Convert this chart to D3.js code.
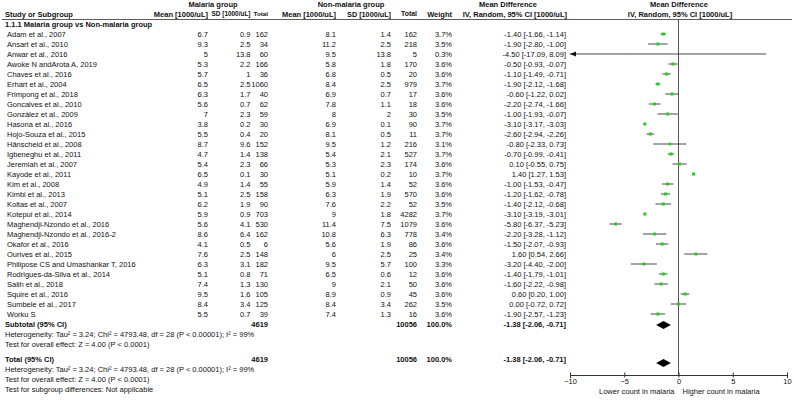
<!DOCTYPE html>
<html>
<head>
<meta charset="utf-8">
<script src="https://cdn.jsdelivr.net/npm/d3@7"></script>
<style>
  body { margin: 0; background: #fff; }
  text { font-family: "Liberation Sans", Arial, sans-serif; font-size: 7.5px; fill: #111; }
  .b { font-weight: bold; }
</style>
</head>
<body>
<div id="chart"></div>
<script>
// study rows
let studies = ["Adam et al., 2007", "Ansart et al., 2010", "Anwar et al., 2016", "Awoke N andArota A, 2019",
  "Chaves et al., 2016", "Erhart et al., 2004", "Frimpong et al., 2018", "Goncalves et al., 2010",
  "González et al., 2009", "Hasona  et al., 2016", "Hojo-Souza et al., 2015", "Hänscheid et al., 2008",
  "Igbeneghu et al., 2011", "Jeremiah et al., 2007", "Kayode et al., 2011", "Kim et al., 2008",
  "Kimbi et al., 2013", "Koltas et al., 2007", "Kotepui et al., 2014", "Maghendji-Nzondo et al., 2016",
  "Maghendji-Nzondo et al., 2016-2", "Okafor et al., 2016", "Ourives et al., 2015",
  "Philipose CS and Umashankar T, 2016", "Rodrigues-da-Silva et al., 2014", "Salih et al., 2018",
  "Squire et al., 2016", "Sumbele et al., 2017", "Worku S"];

let malMean = [6.7, 9.3, 5, 5.3, 5.7, 6.5, 6.3, 5.6, 7, 3.8, 5.5, 8.7, 4.7, 5.4, 6.5, 4.9, 5.1, 6.2, 5.9, 5.6, 8.6, 4.1, 7.6, 6.3, 5.1, 7.4, 9.5, 8.4, 5.5];
let malSD = [0.9, 2.5, 13.8, 2.2, 1, 2.5, 1.7, 0.7, 2.3, 0.2, 0.4, 9.6, 1.4, 2.3, 0.1, 1.4, 2.5, 1.9, 0.9, 4.1, 6.4, 0.5, 2.5, 3.1, 0.8, 1.3, 1.6, 3.4, 0.7];
let malN = [162, 34, 60, 166, 36, 1060, 40, 62, 59, 30, 20, 152, 138, 66, 30, 55, 158, 90, 703, 530, 162, 6, 148, 182, 71, 130, 105, 125, 39];
let nonMean = [8.1, 11.2, 9.5, 5.8, 6.8, 8.4, 6.9, 7.8, 8, 6.9, 8.1, 9.5, 5.4, 5.3, 5.1, 5.9, 6.3, 7.6, 9, 11.4, 10.8, 5.6, 6, 9.5, 6.5, 9, 8.9, 8.4, 7.4];
let nonSD = [1.4, 2.5, 13.8, 1.8, 0.5, 2.5, 0.7, 1.1, 2, 0.1, 0.5, 1.2, 2.1, 2.3, 0.2, 1.4, 1.9, 2.2, 1.8, 7.5, 6.3, 1.9, 2.5, 5.7, 0.6, 2.1, 0.9, 3.4, 1.3];
let nonN = [162, 218, 5, 170, 20, 979, 17, 18, 30, 90, 11, 216, 527, 174, 10, 52, 570, 52, 4282, 1079, 778, 86, 25, 100, 12, 50, 45, 262, 16];
let weights = [3.7, 3.5, 0.3, 3.6, 3.6, 3.7, 3.6, 3.6, 3.5, 3.7, 3.7, 3.1, 3.7, 3.6, 3.7, 3.6, 3.6, 3.5, 3.7, 3.6, 3.4, 3.6, 3.4, 3.3, 3.6, 3.6, 3.6, 3.5, 3.6];
let md = [-1.40, -1.90, -4.50, -0.50, -1.10, -1.90, -0.60, -2.20, -1.00, -3.10, -2.60, -0.80, -0.70, 0.10, 1.40, -1.00, -1.20, -1.40, -3.10, -5.80, -2.20, -1.50, 1.60, -3.20, -1.40, -1.60, 0.60, 0.00, -1.90];
let ciLo = [-1.66, -2.80, -17.09, -0.93, -1.49, -2.12, -1.22, -2.74, -1.93, -3.17, -2.94, -2.33, -0.99, -0.55, 1.27, -1.53, -1.62, -2.12, -3.19, -6.37, -3.28, -2.07, 0.54, -4.40, -1.79, -2.22, 0.20, -0.72, -2.57];
let ciHi = [-1.14, -1.00, 8.09, -0.07, -0.71, -1.68, 0.02, -1.66, -0.07, -3.03, -2.26, 0.73, -0.41, 0.75, 1.53, -0.47, -0.78, -0.68, -3.01, -5.23, -1.12, -0.93, 2.66, -2.00, -1.01, -0.98, 1.00, 0.72, -1.23];

// pooled result
let pooled = { nMal: 4619, nNon: 10056, md: -1.38, lo: -2.06, hi: -0.71 };
let hetText = "Heterogeneity: Tau² = 3.24; Chi² = 4793.48, df = 28 (P < 0.00001); I² = 99%";
let effectText = "Test for overall effect: Z = 4.00 (P < 0.0001)";
let subgroupText = "Test for subgroup differences: Not applicable";
let axisTicks = [-10, -5, 0, 5, 10];

let width = 794, height = 402;
let svg = d3.select("#chart").append("svg")
  .attr("width", width)
  .attr("height", height);

// column right edges
let col = { name: 5, m1: 208, s1: 250.5, n1: 268, m2: 336, s2: 391, n2: 417, w: 452, ci: 566 };

let x = d3.scaleLinear().domain([-10, 10]).range([570, 787]);
let y = d3.scaleLinear().domain([0, studies.length - 1]).range([34, 314]);

function txt(xp, yp, s, anchor, bold) {
  return svg.append("text")
    .attr("x", xp).attr("y", yp).attr("dy", "0.35em")
    .attr("text-anchor", anchor || "start")
    .attr("class", bold ? "b" : null)
    .text(s);
}
// header that has to fit a narrow column: shrink the font if it is too long
function headTxt(xp, yp, s, maxW) {
  let t = txt(xp, yp, s, "end", true);
  let w = t.node().getComputedTextLength();
  if (w > maxW) t.style("font-size", (7.5 * maxW / w).toFixed(2) + "px");
  return t;
}
function ciStr(m, l, h) {
  return m.toFixed(2) + " [" + l.toFixed(2) + ", " + h.toFixed(2) + "]";
}

// headers
txt(213, 4, "Malaria group", "middle", true);
txt(351, 4, "Non-malaria group", "middle", true);
txt(508, 4, "Mean Difference", "middle", true);
txt(679, 4, "Mean Difference", "middle", true);
txt(col.name, 14, "Study or Subgroup", "start", true);
headTxt(col.m1, 14, "Mean [1000/uL]", 55);
headTxt(col.s1, 14, "SD [1000/uL]", 39);
headTxt(col.n1, 14, "Total", 14.5);
headTxt(col.m2, 14, "Mean [1000/uL]", 54);
headTxt(col.s2, 14, "SD [1000/uL]", 44);
headTxt(col.n2, 14, "Total", 16);
headTxt(col.w, 14, "Weight", 32);
txt(col.ci + 1, 14, "IV, Random, 95% CI [1000/uL]", "end", true);
txt(680, 14, "IV, Random, 95% CI [1000/uL]", "middle", true);

svg.append("line")
  .attr("x1", 2).attr("x2", 792).attr("y1", 19.5).attr("y2", 19.5)
  .attr("stroke", "#333").attr("stroke-width", 0.8);

txt(col.name, 24, "1.1.1 Malaria group vs Non-malaria group", "start", true);

// zero line
svg.append("line")
  .attr("x1", x(0)).attr("x2", x(0)).attr("y1", 20).attr("y2", 375)
  .attr("stroke", "#555").attr("stroke-width", 1);

// study rows
studies.forEach(function(s, i) {
  let yy = y(i);
  txt(col.name + 2, yy, s);
  txt(col.m1, yy, malMean[i], "end");
  txt(col.s1, yy, malSD[i], "end");
  txt(col.n1, yy, malN[i], "end");
  txt(col.m2, yy, nonMean[i], "end");
  txt(col.s2, yy, nonSD[i], "end");
  txt(col.n2, yy, nonN[i], "end");
  txt(col.w, yy, weights[i].toFixed(1) + "%", "end");
  txt(col.ci, yy, ciStr(md[i], ciLo[i], ciHi[i]), "end");

  let lo = Math.max(ciLo[i], -10), hi = Math.min(ciHi[i], 10);
  svg.append("line")
    .attr("x1", x(lo)).attr("x2", x(hi)).attr("y1", yy).attr("y2", yy)
    .attr("stroke", "#333").attr("stroke-width", 0.9);
  if (ciLo[i] < -10) {
    svg.append("path")
      .attr("d", "M" + x(-10) + "," + yy + "l6,-2.5l0,5z")
      .attr("fill", "#111");
  }
  if (ciHi[i] > 10) {
    svg.append("path")
      .attr("d", "M" + x(10) + "," + yy + "l-6,-2.5l0,5z")
      .attr("fill", "#111");
  }
  let side = 3 * Math.sqrt(weights[i] / 3.7);
  svg.append("rect")
    .attr("x", x(md[i]) - side / 2).attr("y", yy - side / 2)
    .attr("width", side).attr("height", side)
    .attr("fill", "#22cc22");
});

// subtotal + total blocks
function pooledBlock(yy, label, yd) {
  txt(col.name, yy, label, "start", true);
  txt(col.n1, yy, pooled.nMal, "end", true);
  txt(col.n2, yy, pooled.nNon, "end", true);
  txt(col.w, yy, "100.0%", "end", true);
  txt(col.ci, yy, ciStr(pooled.md, pooled.lo, pooled.hi), "end", true);
  svg.append("path")
    .attr("d", "M" + x(pooled.lo) + "," + yd +
      "L" + x(pooled.md) + "," + (yd - 4) +
      "L" + x(pooled.hi) + "," + yd +
      "L" + x(pooled.md) + "," + (yd + 4) + "Z")
    .attr("fill", "#000");
  txt(col.name, yy + 10, hetText);
  txt(col.name, yy + 20, effectText);
}
pooledBlock(324, "Subtotal (95% CI)", 325);
pooledBlock(359, "Total (95% CI)", 363);
txt(col.name, 389, subgroupText);

// axis
let axis = d3.axisBottom(x).tickValues(axisTicks).tickSize(3).tickFormat(d3.format("d"));
let gAxis = svg.append("g").attr("transform", "translate(0,375)").call(axis);
gAxis.select(".domain").attr("stroke", "#333");
gAxis.selectAll(".tick line").attr("y1", -2.5).attr("y2", 2.5).attr("stroke", "#333");
gAxis.selectAll(".tick text")
  .attr("y", 4).attr("dy", "0.71em")
  .style("font-family", "Liberation Sans, Arial, sans-serif").style("font-size", "7.5px").attr("fill", "#111");

txt(x(0) - 4, 391, "Lower count in malaria", "end");
txt(x(0) + 4, 391, "Higher count in malaria", "start");
</script>
</body>
</html>
